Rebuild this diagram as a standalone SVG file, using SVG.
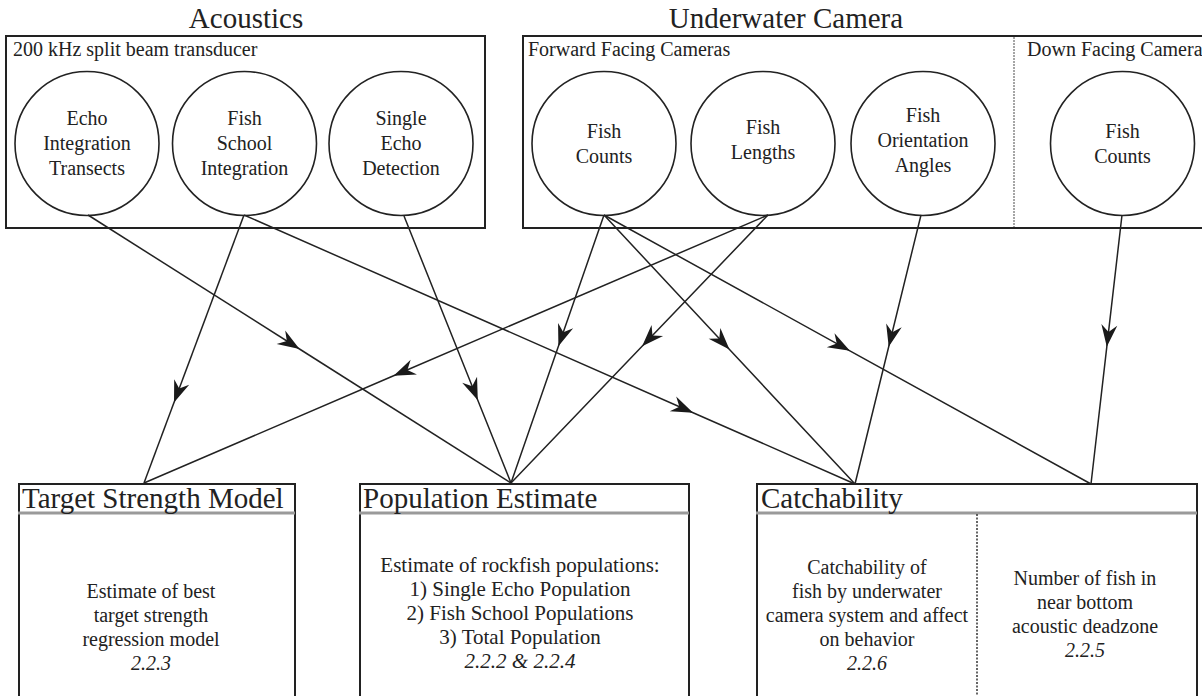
<svg xmlns="http://www.w3.org/2000/svg" width="1202" height="696" viewBox="0 0 1202 696" font-family="'Liberation Serif', 'DejaVu Serif', serif">
<style>
text{font-family:'Liberation Serif','DejaVu Serif',serif;fill:#222}
.title{font-size:29px}
.lbl{font-size:20px}
.ct{font-size:20px;text-anchor:middle}
.bt{font-size:20px;text-anchor:middle}
.it{font-style:italic}
.box{fill:#fff;stroke:#222;stroke-width:2}
.circ{fill:#fff;stroke:#222;stroke-width:1.6}
.hdr{stroke:#9a9a9a;stroke-width:3}
.div{stroke:#333;stroke-width:1.5;stroke-dasharray:2 1.5}
.divg{stroke:#888;stroke-width:1.5;stroke-dasharray:2 1}
.con{fill:none;stroke:#222;stroke-width:1.5;marker-mid:url(#ah)}
</style>
<defs>
<marker id="ah" markerUnits="userSpaceOnUse" orient="auto" overflow="visible" refX="0" refY="0" markerWidth="1" markerHeight="1">
<path d="M0,0 L-22,-8 L-15,0 L-22,8 Z" fill="#1a1a1a"/>
</marker>
</defs>
<rect width="1202" height="696" fill="#fff"/>

<g id="acoustics">
<text class="title" x="246" y="28" text-anchor="middle">Acoustics</text>
<rect class="box" x="6" y="36" width="479" height="192"/>
<text class="lbl" x="13" y="56">200 kHz split beam transducer</text>
</g>
<g id="underwater-camera">
<text class="title" x="786" y="28" text-anchor="middle">Underwater Camera</text>
<rect class="box" x="523" y="36" width="700" height="192"/>
<line class="divg" x1="1014" y1="37" x2="1014" y2="227"/>
<text class="lbl" x="528" y="56">Forward Facing Cameras</text>
<text class="lbl" x="1027" y="56">Down Facing Camera</text>
</g>

<g id="echo-integration">
<circle class="circ" cx="87" cy="143.5" r="72"/>
<text class="ct" x="87" y="125">Echo</text>
<text class="ct" x="87" y="150">Integration</text>
<text class="ct" x="87" y="175">Transects</text>
</g>
<g id="fish-school">
<circle class="circ" cx="244.5" cy="143.5" r="72"/>
<text class="ct" x="244.5" y="125">Fish</text>
<text class="ct" x="244.5" y="150">School</text>
<text class="ct" x="244.5" y="175">Integration</text>
</g>
<g id="single-echo">
<circle class="circ" cx="401" cy="143.5" r="72"/>
<text class="ct" x="401" y="125">Single</text>
<text class="ct" x="401" y="150">Echo</text>
<text class="ct" x="401" y="175">Detection</text>
</g>
<g id="fish-counts-fwd">
<circle class="circ" cx="604" cy="143.5" r="72"/>
<text class="ct" x="604" y="138">Fish</text>
<text class="ct" x="604" y="163">Counts</text>
</g>
<g id="fish-lengths">
<circle class="circ" cx="763" cy="143.5" r="72"/>
<text class="ct" x="763" y="134">Fish</text>
<text class="ct" x="763" y="159">Lengths</text>
</g>
<g id="fish-orientation">
<circle class="circ" cx="923" cy="143.5" r="72"/>
<text class="ct" x="923" y="122">Fish</text>
<text class="ct" x="923" y="147">Orientation</text>
<text class="ct" x="923" y="172">Angles</text>
</g>
<g id="fish-counts-down">
<circle class="circ" cx="1122.5" cy="143.5" r="72"/>
<text class="ct" x="1122.5" y="138">Fish</text>
<text class="ct" x="1122.5" y="163">Counts</text>
</g>

<g id="target-strength">
<rect class="box" x="19" y="484" width="276" height="240"/>
<line class="hdr" x1="18" y1="513" x2="295" y2="513"/>
<text class="title" x="22" y="508">Target Strength Model</text>
<text class="bt" x="151" y="598">Estimate of best</text>
<text class="bt" x="151" y="622">target strength</text>
<text class="bt" x="151" y="646">regression model</text>
<text class="bt it" x="151" y="670">2.2.3</text>
</g>
<g id="population-estimate">
<rect class="box" x="360" y="484" width="329" height="240"/>
<line class="hdr" x1="359" y1="513" x2="689" y2="513"/>
<text class="title" x="363" y="508">Population Estimate</text>
<text class="bt" x="520" y="572" style="font-size:21px">Estimate of rockfish populations:</text>
<text class="bt" x="520" y="596" style="font-size:21px">1) Single Echo Population</text>
<text class="bt" x="520" y="620" style="font-size:21px">2) Fish School Populations</text>
<text class="bt" x="520" y="644" style="font-size:21px">3) Total Population</text>
<text class="bt it" x="520" y="668" style="font-size:21px">2.2.2 &amp; 2.2.4</text>
</g>
<g id="catchability">
<rect class="box" x="757" y="484" width="440" height="240"/>
<line class="hdr" x1="756" y1="513" x2="1197" y2="513"/>
<text class="title" x="761" y="508">Catchability</text>
<line class="div" x1="977" y1="514" x2="977" y2="700"/>
<text class="bt" x="867" y="574">Catchability of</text>
<text class="bt" x="867" y="598">fish by underwater</text>
<text class="bt" x="867" y="622">camera system and affect</text>
<text class="bt" x="867" y="646">on behavior</text>
<text class="bt it" x="867" y="670">2.2.6</text>
<text class="bt" x="1085" y="585">Number of fish in</text>
<text class="bt" x="1085" y="609">near bottom</text>
<text class="bt" x="1085" y="633">acoustic deadzone</text>
<text class="bt it" x="1085" y="657">2.2.5</text>
</g>

<g id="connectors">
<path class="con" d="M88,215 L299.5,349 L511,483"/>
<path class="con" d="M244,215 L174,402.6 L144,483"/>
<path class="con" d="M768,215 L393.6,375.8 L144,483"/>
<path class="con" d="M404,216 L477.8,400.2 L511,483"/>
<path class="con" d="M244,215 L693.1,412.7 L855,484"/>
<path class="con" d="M604,215 L558.4,346.3 L511,483"/>
<path class="con" d="M768,215 L642.1,346.3 L511,483"/>
<path class="con" d="M604,215 L729.5,349.5 L855,484"/>
<path class="con" d="M604,215 L849.9,350.8 L1091,484"/>
<path class="con" d="M921,215 L888.7,346.8 L855,484"/>
<path class="con" d="M1122,215 L1106.8,346.8 L1091,484"/>
</g>
</svg>
